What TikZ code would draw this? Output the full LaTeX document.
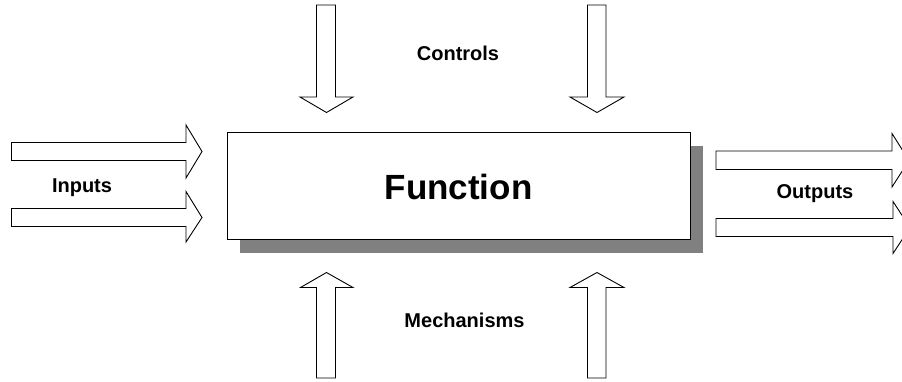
\documentclass[tikz,border=0pt]{standalone}
\usepackage{fontspec}
\setmainfont{Liberation Sans}
\begin{document}
\begin{tikzpicture}[x=1pt,y=-1pt,
  arr/.style={draw=black,line width=0.9pt,fill=white,line join=miter},
  lab/.style={font=\bfseries\fontsize{20}{22}\selectfont,inner sep=0pt},
  boxst/.style={draw=black,line width=1pt,fill=white},
  shadowst/.style={fill=black!50}]
\useasboundingbox (0,0) rectangle (902,381);
\clip (0,0) rectangle (902,381);
% shadow and box
\fill[shadowst] (240,146) rectangle (703,253);
\draw[boxst] (227,132) rectangle (690,239);
\node[font=\bfseries\fontsize{35}{37}\selectfont,inner sep=0pt] (func) at (458.5,187) {Function};
% inputs
\draw[arr] (11.5,142.5) -- (186,142.5) -- (186,125) -- (202,151.5) -- (186,178) -- (186,160.5) -- (11.5,160.5) -- cycle;
\draw[arr] (11.5,208.5) -- (186,208.5) -- (186,191.5) -- (202,217.5) -- (186,242) -- (186,226.5) -- (11.5,226.5) -- cycle;
\node[lab] (inputs) at (82,188) {Inputs};
% outputs
\draw[arr] (716,151) -- (892,151) -- (892,133.5) -- (909,160.5) -- (892,187) -- (892,169.5) -- (716,169.5) -- cycle;
\draw[arr] (716,218.5) -- (893,218.5) -- (893,201.5) -- (910,227.5) -- (893,253.5) -- (893,236.5) -- (716,236.5) -- cycle;
\node[lab] (outputs) at (815,194) {Outputs};
% controls
\draw[arr] (316.5,5) -- (335.5,5) -- (335.5,97) -- (353,97) -- (326.5,112.5) -- (300,97) -- (316.5,97) -- cycle;
\draw[arr] (587.5,5) -- (606,5) -- (606,97) -- (624,97) -- (597,112.5) -- (570,97) -- (587.5,97) -- cycle;
\node[lab] (controls) at (458,53) {Controls};
% mechanisms
\draw[arr] (316.5,378) -- (335.5,378) -- (335.5,287.5) -- (353,287.5) -- (326.5,272.5) -- (300.5,287.5) -- (316.5,287.5) -- cycle;
\draw[arr] (587.5,378) -- (606,378) -- (606,287.5) -- (624,287.5) -- (597,272.5) -- (570,287.5) -- (587.5,287.5) -- cycle;
\node[lab] (mech) at (464.5,320) {Mechanisms};
\end{tikzpicture}
\end{document}
